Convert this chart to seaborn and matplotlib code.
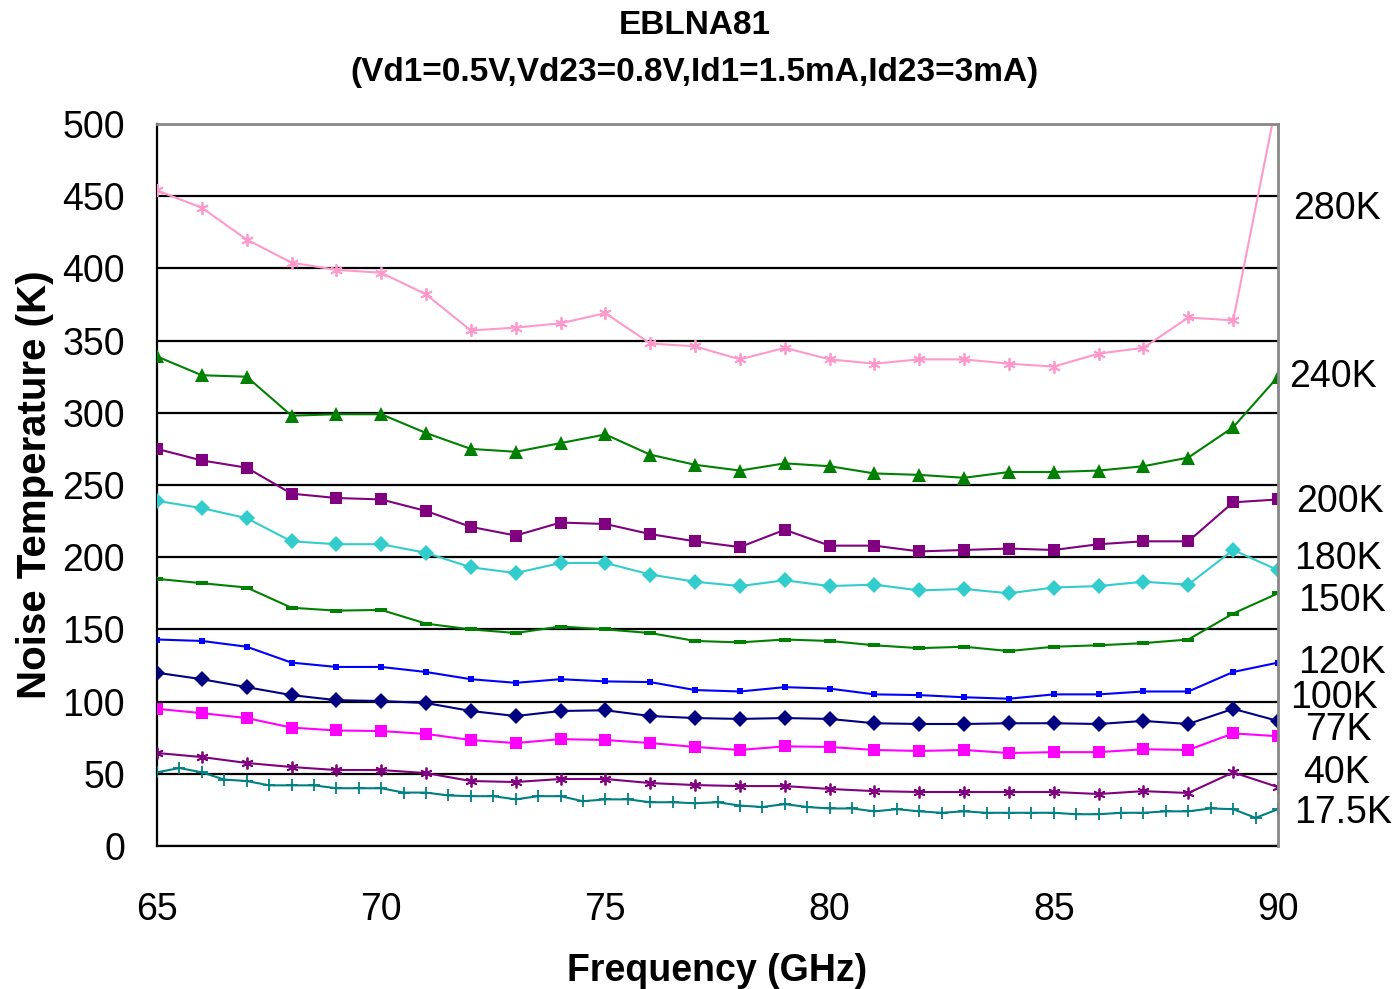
import numpy as np
import pandas as pd
import matplotlib
matplotlib.use("Agg")
import matplotlib.pyplot as plt
import seaborn as sns

# ---------------- data ----------------
freq = list(range(65, 91))
freq_half = [65 + 0.5 * i for i in range(51)]

t280 = [454, 442, 420, 404, 399, 397, 382, 357, 359, 362, 369, 348, 346, 337, 345,
        337, 334, 337, 337, 334, 332, 341, 345, 366, 364, 520]
t240 = [339, 326, 325, 298, 299, 299, 286, 275, 273, 279, 285, 271, 264, 260, 265,
        263, 258, 257, 255, 259, 259, 260, 263, 269, 290, 325]
t200 = [275, 267, 262, 244, 241, 240, 232, 221, 215, 224, 223, 216, 211, 207, 219,
        208, 208, 204, 205, 206, 205, 209, 211, 211, 238, 240]
t180 = [239, 234, 227, 211, 209, 209, 203, 193, 189, 196, 196, 188, 183, 180, 184,
        180, 181, 177, 178, 175, 179, 180, 183, 181, 205, 191]
t150 = [185, 182, 179, 165, 163, 163.5, 154, 150, 147.5, 152, 150, 147.5, 142, 141, 143,
        142, 139, 137, 138, 135, 138, 139, 140.5, 143, 161, 175]
t120 = [143, 142, 138, 127, 124, 124, 120.5, 115.5, 113, 115.5, 114, 113.5, 108, 107, 110,
        109, 105, 104.5, 103, 102, 105, 105, 107, 107, 120.5, 127]
t100 = [120, 115.5, 110, 104.5, 101, 100.4, 99, 93.5, 90, 93.5, 94, 90, 88.6, 88, 88.6,
        88, 85, 84.5, 84.5, 85, 85, 84.5, 86.6, 84.5, 95, 86.6]
t77 = [95, 92, 88.6, 82, 80, 79.6, 77.6, 73.4, 71.3, 74, 73.4, 71.3, 68.6, 66.5, 69,
       68.6, 66.5, 65.8, 66.5, 64.4, 65, 65, 67, 66.5, 78, 76]
t40 = [64.4, 61.6, 57.5, 54.7, 52.6, 52.6, 50.5, 45, 44.3, 46.4, 46.4, 43.6, 42.2, 41.5, 41.5,
       39.5, 38, 37.4, 37.4, 37.4, 37.4, 36, 38, 36.7, 51, 40.8]
t17 = [51, 54, 51, 46, 45, 42, 42, 42, 40, 40, 40, 37, 37, 35, 34.5, 34.5, 32.3, 34.5,
       34.5, 31, 32.3, 32.3, 30.3, 30.3, 29.6, 30.3, 28, 27, 29, 27, 26, 26, 24, 25.5,
       24, 23, 24, 23, 23, 23, 23, 22, 22, 23, 23, 24, 24, 26, 25.5, 19.5, 25.5]

series_names = ["280K", "240K", "200K", "180K", "150K", "120K", "100K", "77K", "40K", "17.5K"]
y_ticks = [0, 50, 100, 150, 200, 250, 300, 350, 400, 450, 500]
x_ticks = [65, 70, 75, 80, 85, 90]
title_line1 = "EBLNA81"
title_line2 = "(Vd1=0.5V,Vd23=0.8V,Id1=1.5mA,Id23=3mA)"
xlabel = "Frequency (GHz)"
ylabel = "Noise Temperature (K)"

# ---------------- style ----------------
sns.set_style("white")
plt.rcParams["font.family"] = ["Liberation Sans", "DejaVu Sans"]
plt.rcParams["text.color"] = "black"
plt.rcParams["axes.labelcolor"] = "black"
plt.rcParams["xtick.color"] = "black"
plt.rcParams["ytick.color"] = "black"

W, H = 1398, 989
fig = plt.figure(figsize=(W / 100, H / 100), dpi=100)
ax = fig.add_axes([157 / W, 1 - 846 / H, (1278 - 157) / W, (846 - 124) / H])

bar_marker = [(-1, -0.32), (1, -0.32), (1, 0.32), (-1, 0.32), (-1, -0.32)]
asterisk = (6, 2, 0)

styles = {
    "280K": dict(color="#FF99CC", marker=asterisk, markersize=9, mew=1.3),
    "240K": dict(color="#008000", marker="^", markersize=10.5, mew=0),
    "200K": dict(color="#800080", marker="s", markersize=8, mew=0),
    "180K": dict(color="#33CCCC", marker="D", markersize=8.5, mew=0),
    "150K": dict(color="#008000", marker=bar_marker, markersize=9, mew=0),
    "120K": dict(color="#0000FF", marker="s", markersize=4.5, mew=0),
    "100K": dict(color="#000080", marker="D", markersize=8.5, mew=0),
    "77K": dict(color="#FF00FF", marker="s", markersize=8, mew=0),
    "40K": dict(color="#800080", marker=asterisk, markersize=8.5, mew=1.3),
    "17.5K": dict(color="#008080", marker="+", markersize=8, mew=1.3),
}

series_data = {
    "280K": (freq, t280), "240K": (freq, t240), "200K": (freq, t200),
    "180K": (freq, t180), "150K": (freq, t150), "120K": (freq, t120),
    "100K": (freq, t100), "77K": (freq, t77), "40K": (freq, t40),
    "17.5K": (freq_half, t17),
}

for name in series_names:
    xs, ys = series_data[name]
    st = styles[name]
    sns.lineplot(x=xs, y=ys, ax=ax, color=st["color"], marker=st["marker"],
                 markersize=st["markersize"], markeredgewidth=st["mew"],
                 markeredgecolor=st["color"], markerfacecolor=st["color"],
                 linewidth=1.5, legend=False, zorder=3, clip_on=True)

ax.set_xlim(65, 90)
ax.set_ylim(0, 500)
ax.set_xticks(x_ticks)
ax.set_yticks(y_ticks)
ax.tick_params(axis="both", labelsize=27, direction="out", length=13, width=1.2,
               color="black", labelcolor="black", pad=10)
ax.tick_params(axis="x", pad=20)
ax.yaxis.grid(True, color="black", linewidth=1.6)
ax.xaxis.grid(False)
ax.set_axisbelow(True)

for s in ["left", "bottom"]:
    ax.spines[s].set_color("black")
    ax.spines[s].set_linewidth(1.6)
for s in ["top", "right"]:
    ax.spines[s].set_color("#888888")
    ax.spines[s].set_linewidth(2)
    ax.spines[s].set_zorder(4)

ax.set_xlabel(xlabel, fontsize=27, fontweight="bold", labelpad=18, color="black")
ax.set_ylabel(ylabel, fontsize=29, fontweight="bold", labelpad=6, color="black")
fig.text(695 / W, 1 - 26 / H, title_line1, ha="center", va="center", fontsize=24,
         fontweight="bold", color="black")
fig.text(694 / W, 1 - 72 / H, title_line2, ha="center", va="center", fontsize=24,
         fontweight="bold", color="black")

# right-hand series labels
label_y = [441, 325, 238, 199, 170, 127, 102.5, 80, 50.5, 23]
label_dx = [1337, 1333, 1340, 1338, 1342, 1342, 1334, 1338, 1336, 1343]
for name, ly, lx in zip(series_names, label_y, label_dx):
    ax.text((lx - 157) / (1278 - 157), ly / 500, name, transform=ax.transAxes,
            ha="center", va="center", fontsize=27, clip_on=False, color="black")

fig.savefig("out.png", dpi=100)
